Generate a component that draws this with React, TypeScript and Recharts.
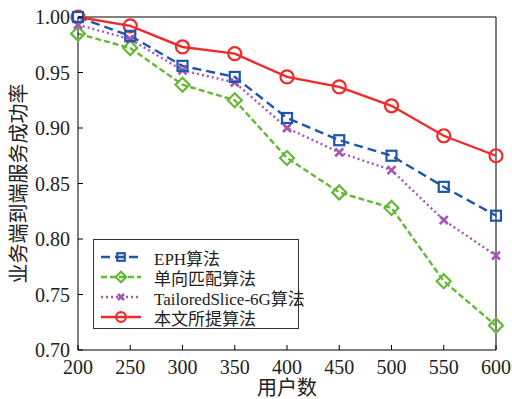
import { LineChart, Line, XAxis, YAxis, ReferenceLine } from 'recharts';

const users = [200, 250, 300, 350, 400, 450, 500, 550, 600];
const eph = [1.0, 0.983, 0.956, 0.946, 0.909, 0.889, 0.875, 0.847, 0.821];
const oneWay = [0.985, 0.972, 0.939, 0.925, 0.873, 0.842, 0.828, 0.762, 0.722];
const tailored = [0.993, 0.98, 0.952, 0.941, 0.9, 0.878, 0.862, 0.817, 0.785];
const proposed = [1.0, 0.992, 0.973, 0.967, 0.946, 0.937, 0.92, 0.893, 0.875];
const yTicks = [0.7, 0.75, 0.8, 0.85, 0.9, 0.95, 1.0];

const FONT = "'Times New Roman', 'Liberation Serif', Times, 'Noto Sans CJK SC', serif";

type Marker = 'square' | 'diamond' | 'cross' | 'circle';

const SERIES: { key: string; name: string; color: string; dash?: string; marker: Marker }[] = [
  { key: 'eph', name: 'EPH算法', color: '#1f55aa', dash: '9 5', marker: 'square' },
  { key: 'oneWay', name: '单向匹配算法', color: '#66b83a', dash: '6 3', marker: 'diamond' },
  { key: 'tailored', name: 'TailoredSlice-6G算法', color: '#a655b5', dash: '2 3', marker: 'cross' },
  { key: 'proposed', name: '本文所提算法', color: '#ee2b2b', marker: 'circle' },
];

const data = users.map((u, i) => ({
  users: u,
  eph: eph[i],
  oneWay: oneWay[i],
  tailored: tailored[i],
  proposed: proposed[i],
}));

function drawMarker(kind: Marker, cx: number, cy: number, color: string, key?: string, s = 1) {
  if (kind === 'square')
    return <rect key={key} x={cx - 5 * s} y={cy - 5 * s} width={10 * s} height={10 * s} fill="none" stroke={color} strokeWidth={2.2} />;
  if (kind === 'diamond')
    return (
      <path
        key={key}
        d={`M${cx} ${cy - 7 * s}L${cx + 7 * s} ${cy}L${cx} ${cy + 7 * s}L${cx - 7 * s} ${cy}Z`}
        fill="none"
        stroke={color}
        strokeWidth={2.2}
      />
    );
  if (kind === 'cross')
    return (
      <g key={key} stroke={color} strokeWidth={2.6}>
        <line x1={cx - 4 * s} y1={cy - 4 * s} x2={cx + 4 * s} y2={cy + 4 * s} />
        <line x1={cx - 4 * s} y1={cy + 4 * s} x2={cx + 4 * s} y2={cy - 4 * s} />
      </g>
    );
  return <circle key={key} cx={cx} cy={cy} r={6.5 * s} fill="none" stroke={color} strokeWidth={2.2} />;
}

const XTick = (props: any) => {
  const { x, y, payload } = props;
  return (
    <g>
      <line x1={x} x2={x} y1={y} y2={y - 5} stroke="#000" />
      <text x={x} y={y + 24} textAnchor="middle" fontSize={20} fontFamily={FONT} fill="#222">
        {payload.value}
      </text>
    </g>
  );
};

const YTick = (props: any) => {
  const { x, y, payload } = props;
  return (
    <g>
      <line x1={x} x2={x + 5} y1={y} y2={y} stroke="#000" />
      <text x={x - 8} y={y + 7} textAnchor="end" fontSize={20} fontFamily={FONT} fill="#222">
        {payload.value.toFixed(2)}
      </text>
    </g>
  );
};

function LegendBox() {
  return (
    <div
      style={{
        position: 'absolute',
        left: 93,
        top: 239,
        width: 204,
        height: 88,
        border: '1.5px solid #333',
        background: '#fff',
        fontFamily: FONT,
        fontSize: 17,
        color: '#222',
      }}
    >
      {SERIES.map((s, i) => (
        <div key={s.key} style={{ position: 'absolute', left: 0, top: 7 + i * 20, height: 20, display: 'flex', alignItems: 'center' }}>
          <svg width={56} height={20}>
            <line x1={7} x2={47} y1={10} y2={10} stroke={s.color} strokeWidth={2.4} strokeDasharray={s.dash} />
            {drawMarker(s.marker, 27, 10, s.color, undefined, 0.75)}
          </svg>
          <span style={{ marginLeft: 4, whiteSpace: 'nowrap' }}>{s.name}</span>
        </div>
      ))}
    </div>
  );
}

export default function App() {
  const order = [SERIES[3], SERIES[1], SERIES[2], SERIES[0]];
  return (
    <div style={{ position: 'relative', width: 512, height: 399 }}>
      <style>{'body{margin:0;overflow:hidden}'}</style>
      <LineChart width={512} height={399} data={data} margin={{ top: 17, right: 16, left: 14, bottom: 4 }}>
        <XAxis
          dataKey="users"
          type="number"
          domain={[200, 600]}
          ticks={users}
          tickLine={false}
          tickSize={0}
          tickMargin={0}
          height={45}
          stroke="#000"
          tick={<XTick />}
          label={{ value: '用户数', position: 'insideBottom', offset: 0, style: { fontFamily: FONT, fontSize: 20, fill: '#222' } }}
        />
        <YAxis
          type="number"
          domain={[0.7, 1.0]}
          ticks={yTicks}
          tickLine={false}
          tickSize={0}
          tickMargin={0}
          width={64}
          stroke="#000"
          tick={<YTick />}
          label={{
            value: '业务端到端服务成功率',
            angle: -90,
            position: 'insideLeft',
            offset: 5,
            style: { textAnchor: 'middle', fontFamily: FONT, fontSize: 20, fill: '#222' },
          }}
        />
        <ReferenceLine y={1.0} stroke="#000" />
        <ReferenceLine x={600} stroke="#000" />
        {order.map((s) => (
          <Line
            key={s.key}
            dataKey={s.key}
            name={s.name}
            stroke={s.color}
            strokeWidth={2.4}
            strokeDasharray={s.dash}
            type="linear"
            isAnimationActive={false}
            dot={(p: any) => drawMarker(s.marker, p.cx, p.cy, s.color, `${s.key}-${p.index}`)}
          />
        ))}
      </LineChart>
      <LegendBox />
    </div>
  );
}
